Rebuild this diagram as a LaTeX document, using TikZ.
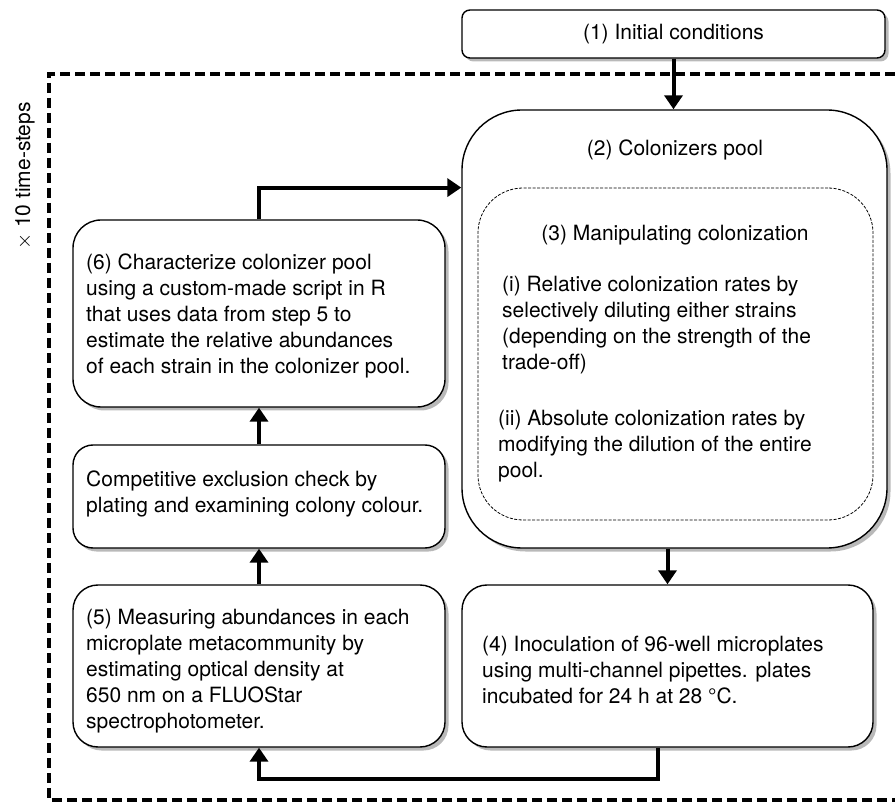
\documentclass[tikz,border=0pt]{standalone}
\usepackage{fontspec}
\setmainfont{TeX Gyre Heros}
\usetikzlibrary{
    positioning,
    arrows.meta,
    shadows
}
\tikzset{
    >={Triangle[length=14pt,width=18pt]},
    every node/.style={
        font=\fontsize{21}{26}\selectfont
    },
    box/.style={
        draw,
        line width=1.4pt,
        fill=white,
        inner sep=0pt,
        drop shadow={shadow xshift=3.5pt, shadow yshift=-3.5pt, opacity=0.55}
    },
    manbox/.style={
        draw,
        line width=0.8pt,
        dash pattern=on 3pt off 1.5pt,
        inner sep=0pt
    },
    txt/.style={
        align=left,
        inner sep=0pt
    },
    flow/.style={
        ->,
        line width=4pt
    },
    frame/.style={
        line width=3.2pt,
        dash pattern=on 10pt off 5pt
    }
}

\begin{document}
\begin{tikzpicture}[
    x=1pt,
    y=-1pt
]
    \useasboundingbox (0,0) rectangle (895,802);

    % Bucle de pasos
    \draw[frame] (895,74) -- (49,74) -- (49,800) -- (895,800);
    \node[rotate=90] (loop) at (25,176) {$\times$ 10 time-steps};

    % Cajas
    \node[box, rounded corners=8pt, minimum width=423pt, minimum height=48pt]
        (init) at (673.5,34) {(1) Initial conditions};
    \node[box, rounded corners=60pt, minimum width=425pt, minimum height=438pt]
        (pool) at (674.5,329) {};
    \node[manbox, rounded corners=45pt, minimum width=395pt, minimum height=332pt]
        (manip) at (675.5,354) {};
    \node[box, rounded corners=25pt, minimum width=411pt, minimum height=162pt]
        (inoc) at (667.5,666) {};
    \node[box, rounded corners=25pt, minimum width=372pt, minimum height=162pt]
        (meas) at (259,666) {};
    \node[box, rounded corners=20pt, minimum width=372pt, minimum height=103pt]
        (check) at (259,496.5) {};
    \node[box, rounded corners=28pt, minimum width=372pt, minimum height=187pt]
        (char) at (259,313.5) {};

    % Textos
    \node (tpool)  at (675,150) {(2) Colonizers pool};
    \node (tmanip) at (675,235) {(3) Manipulating colonization};
    \node[txt, anchor=west] (trel) at (502,325)
        {(i) Relative colonization rates by\\
         selectively diluting either strains\\
         (depending on the strength of the\\
         trade-off)};
    \node[txt, anchor=west] (tabs) at (498,446)
        {(ii) Absolute colonization rates by\\
         modifying the dilution of the entire\\
         pool.};
    \node[txt, anchor=west] (tinoc) at (482,670)
        {(4) Inoculation of 96-well microplates\\
         using multi-channel pipettes. plates\\
         incubated for 24 h at 28 °C.};
    \node[txt, anchor=west] (tmeas) at (86,671.5)
        {(5) Measuring abundances in each\\
         microplate metacommunity by\\
         estimating optical density at\\
         650 nm on a FLUOStar\\
         spectrophotometer.};
    \node[txt, anchor=west] (tcheck) at (86,493.5)
        {Competitive exclusion check by\\
         plating and examining colony colour.};
    \node[txt, anchor=west] (tchar) at (86,315.5)
        {(6) Characterize colonizer pool\\
         using a custom-made script in R\\
         that uses data from step 5 to\\
         estimate the relative abundances\\
         of each strain in the colonizer pool.};

    % Flechas
    \draw[flow] (init.south) -- (init.south |- pool.north);
    \draw[flow] (pool.south -| inoc.north) -- (inoc.north);
    \draw[flow] ([xshift=-10pt]inoc.south) -- ++(0,31) -| (meas.south);
    \draw[flow] (meas.north) -- (check.south);
    \draw[flow] (check.north) -- (char.south);
    \draw[flow] (char.north) |- (manip.north -| pool.west);

\end{tikzpicture}
\end{document}
